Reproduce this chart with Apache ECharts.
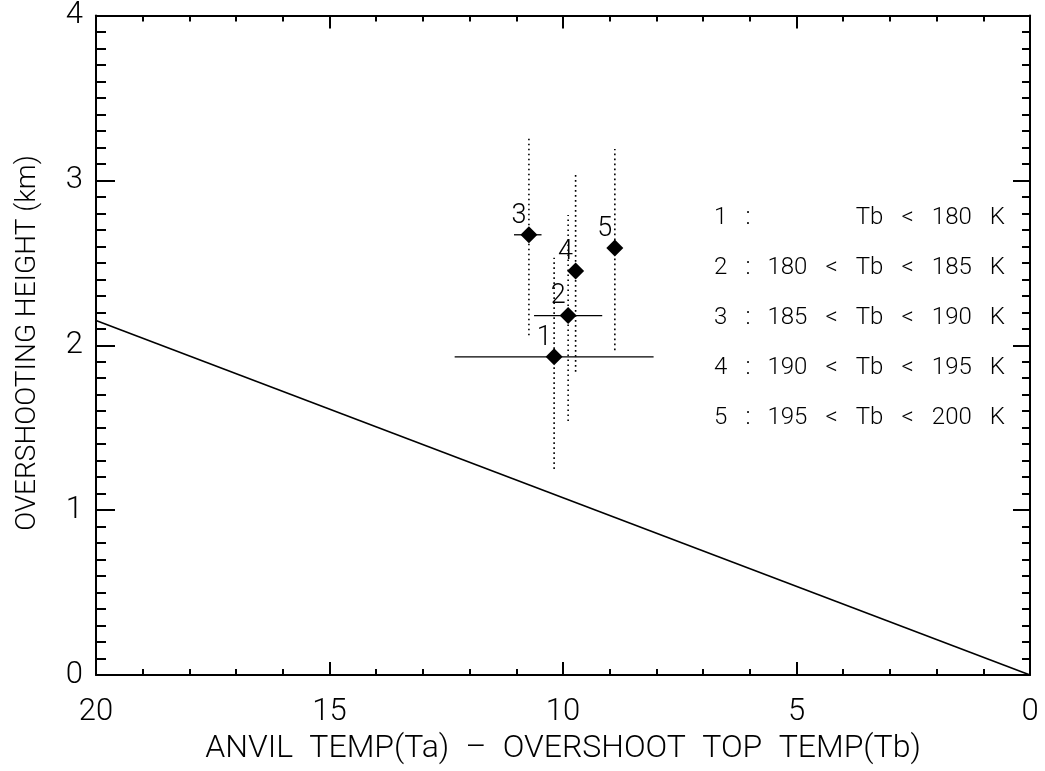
<!DOCTYPE html>
<html>
<head>
<meta charset="utf-8">
<script src="https://cdn.jsdelivr.net/npm/echarts@6/dist/echarts.min.js"></script>
<style>
  html, body { margin: 0; padding: 0; background: #fff; }
  #chart { width: 1045px; height: 771px; }
</style>
</head>
<body>
<div id="chart"></div>
<script>
// ---- data ----
var pointLabels = ['1', '2', '3', '4', '5'];
var xVals  = [10.19, 9.89, 10.73, 9.73, 8.89];
var yVals  = [1.93, 2.18, 2.67, 2.45, 2.59];
var xFrom  = [12.32, 10.62, 11.05, null, null];
var xTo    = [8.06, 9.16, 10.46, null, null];
var yFrom  = [1.25, 1.54, 2.06, 1.84, 1.97];
var yTo    = [2.53, 2.79, 3.27, 3.05, 3.19];
var fitX   = [20, 0];
var fitY   = [2.15, 0];
var legendNums   = ['1 :', '2 :', '3 :', '4 :', '5 :'];
var legendRanges = ['Tb < 180 K', '180 < Tb < 185 K', '185 < Tb < 190 K', '190 < Tb < 195 K', '195 < Tb < 200 K'];
var xTitle = 'ANVIL TEMP(Ta) \u2013 OVERSHOOT TOP TEMP(Tb)';
var yTitle = 'OVERSHOOTING HEIGHT (km)';

var FONT = 'Roboto';
// the original uses a wide vector font with broad word gaps
function widen(s, gap) { return s.split(' ').join(gap); }
var LEG_GAP = '\u2002 ';
var TITLE_GAP = '\u2002';

var chart = echarts.init(document.getElementById('chart'), null, { renderer: 'canvas' });

var pts = xVals.map(function (x, i) { return [x, yVals[i]]; });
var fitData = fitX.map(function (x, i) { return [x, fitY[i]]; });

function axisCommon(extra) {
  var base = {
    axisLine: { show: true, onZero: false, lineStyle: { color: '#000', width: 2 } },
    splitLine: { show: false }
  };
  return Object.assign(base, extra);
}

var GRID = { left: 96, right: 15, top: 11, bottom: 96 };

var graphics = [];
legendNums.forEach(function (t, i) {
  graphics.push({
    type: 'text', left: 714, top: 206 + i * 50,
    style: { text: widen(t, LEG_GAP), font: '300 24px ' + FONT, fill: '#000' }
  });
  graphics.push({
    type: 'text', right: 40, top: 206 + i * 50,
    style: { text: widen(legendRanges[i], LEG_GAP), font: '300 24px ' + FONT, fill: '#000', textAlign: 'right' }
  });
});
// y-axis title, centred on the plot height
graphics.push({
  type: 'text', x: 28, y: GRID.top + (771 - GRID.top - GRID.bottom) / 2, rotation: Math.PI / 2,
  style: { text: yTitle, font: '300 28px ' + FONT, fill: '#000', textAlign: 'center', textVerticalAlign: 'middle' }
});

var option = {
  backgroundColor: '#fff',
  animation: false,
  grid: { left: GRID.left, right: GRID.right, top: GRID.top, bottom: GRID.bottom, containLabel: false },
  xAxis: [
    axisCommon({
      type: 'value', min: 0, max: 20, interval: 5, inverse: true, position: 'bottom',
      axisTick: { show: true, inside: true, length: 13, lineStyle: { color: '#000', width: 2 } },
      minorTick: { show: true, splitNumber: 5, length: 6, lineStyle: { color: '#000', width: 2 } },
      axisLabel: { show: true, margin: 22, color: '#000', fontFamily: FONT, fontWeight: 300, fontSize: 31 },
      name: widen(xTitle, TITLE_GAP), nameLocation: 'middle', nameGap: 57,
      nameTextStyle: { color: '#000', fontFamily: FONT, fontWeight: 300, fontSize: 32 }
    }),
    axisCommon({
      type: 'value', min: 0, max: 20, interval: 5, inverse: true, position: 'top',
      axisTick: { show: true, inside: true, length: 13, lineStyle: { color: '#000', width: 2 } },
      minorTick: { show: true, splitNumber: 5, length: 6, lineStyle: { color: '#000', width: 2 } },
      axisLabel: { show: false }
    })
  ],
  yAxis: [
    axisCommon({
      type: 'value', min: 0, max: 4, interval: 1, position: 'left',
      axisTick: { show: true, inside: true, length: 19, lineStyle: { color: '#000', width: 2 } },
      minorTick: { show: true, splitNumber: 10, length: 10, lineStyle: { color: '#000', width: 2 } },
      axisLabel: { show: true, margin: 13, color: '#000', fontFamily: FONT, fontWeight: 300, fontSize: 31 }
    }),
    axisCommon({
      type: 'value', min: 0, max: 4, interval: 1, position: 'right',
      axisTick: { show: true, inside: true, length: 17, lineStyle: { color: '#000', width: 2 } },
      minorTick: { show: true, splitNumber: 10, length: 8, lineStyle: { color: '#000', width: 2 } },
      axisLabel: { show: false }
    })
  ],
  graphic: graphics,
  series: [
    {
      type: 'line', data: fitData, showSymbol: false, symbol: 'none',
      lineStyle: { color: '#000', width: 1.6 }, z: 2, silent: true
    },
    {
      type: 'custom', data: pts, z: 3, silent: true,
      encode: { x: 0, y: 1 },
      renderItem: function (params, api) {
        var i = params.dataIndex;
        var children = [];
        var v0 = api.coord([xVals[i], yFrom[i]]);
        var v1 = api.coord([xVals[i], yTo[i]]);
        children.push({
          type: 'line',
          shape: { x1: v0[0], y1: v0[1], x2: v1[0], y2: v1[1] },
          style: { stroke: '#000', lineWidth: 1.6, lineDash: [1.6, 3.4] }
        });
        if (xFrom[i] !== null && xTo[i] !== null) {
          var h0 = api.coord([xFrom[i], yVals[i]]);
          var h1 = api.coord([xTo[i], yVals[i]]);
          children.push({
            type: 'line',
            shape: { x1: h0[0], y1: h0[1], x2: h1[0], y2: h1[1] },
            style: { stroke: '#000', lineWidth: 1.3 }
          });
        }
        return { type: 'group', children: children };
      }
    },
    {
      type: 'scatter', data: pts, symbol: 'diamond', symbolSize: 17, z: 4,
      itemStyle: { color: '#000', opacity: 1 },
      label: {
        show: true, position: 'inside', offset: [-10, -19],
        formatter: function (p) { return pointLabels[p.dataIndex]; },
        color: '#000', fontFamily: FONT, fontWeight: 300, fontSize: 27
      }
    }
  ]
};
chart.setOption(option);
</script>
</body>
</html>
